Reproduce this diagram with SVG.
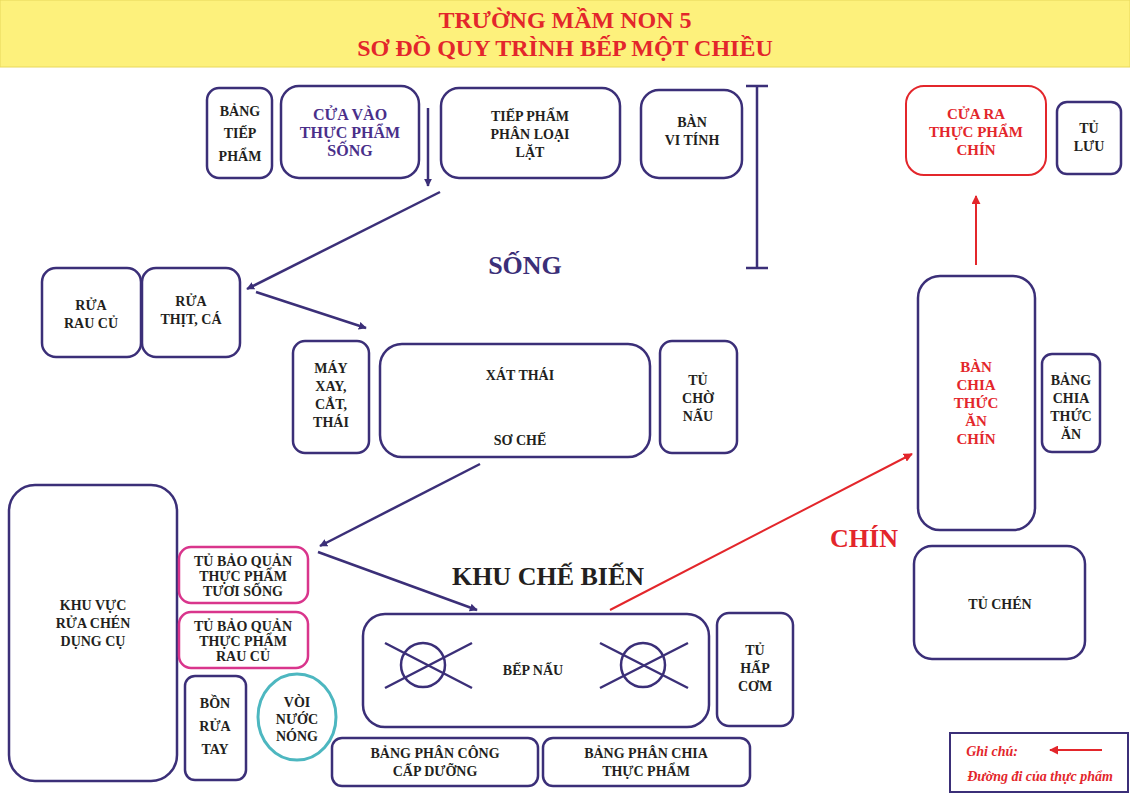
<svg xmlns="http://www.w3.org/2000/svg" width="1130" height="795" viewBox="0 0 1130 795">
<style>
text{font-family:"Liberation Serif","Times New Roman",serif;font-weight:bold;text-anchor:middle}
.b{fill:#fff;stroke:#3b2f78;stroke-width:2.5}
.p{fill:#fff;stroke:#d9358c;stroke-width:2.5}
.r{fill:#fff;stroke:#e3262b;stroke-width:2}
.t{font-size:14px;fill:#231f20}
.pu{font-size:16px;fill:#4a2f8a}
.rd{fill:#e3262b}
.big{font-size:26px}
.ln{stroke:#3b2f78;stroke-width:2.5;fill:none}
.lr{stroke:#e3262b;stroke-width:2;fill:none}
</style>
<defs>
<marker id="ab" viewBox="0 0 10 10" refX="9" refY="5" markerWidth="8" markerHeight="8" markerUnits="userSpaceOnUse" orient="auto"><path d="M0,0L10,5L0,10z" fill="#3b2f78"/></marker>
<marker id="ar" viewBox="0 0 10 10" refX="9" refY="5" markerWidth="9" markerHeight="9" markerUnits="userSpaceOnUse" orient="auto"><path d="M0,0L10,5L0,10z" fill="#e3262b"/></marker>
</defs>
<rect width="1130" height="795" fill="#fff"/>
<g id="title"><rect x="0" y="0" width="1130" height="67" fill="#fdf17c" stroke="#e8d85a"/>
<text x="565" y="28" class="rd" font-size="24">TRƯỜNG MẦM NON 5</text>
<text x="565" y="56" class="rd" font-size="24">SƠ ĐỒ QUY TRÌNH BẾP MỘT CHIỀU</text></g>

<g id="bang-tiep-pham"><rect class="b" x="207" y="88" width="65" height="90" rx="12"/><text class="t" font-size="12" x="240" y="116">BẢNG</text><text class="t" font-size="12" x="240" y="138">TIẾP</text><text class="t" font-size="12" x="240" y="161">PHẨM</text></g>
<g id="cua-vao"><rect class="b" x="281" y="86" width="138" height="92" rx="18"/><text class="pu" x="350" y="120">CỬA VÀO</text><text class="pu" x="350" y="138">THỰC PHẨM</text><text class="pu" x="350" y="156">SỐNG</text></g>
<g id="tiep-pham"><rect class="b" x="441" y="88" width="179" height="90" rx="18"/><text class="t" font-size="15" x="530" y="121">TIẾP PHẨM</text><text class="t" font-size="15" x="530" y="139">PHÂN LOẠI</text><text class="t" font-size="15" x="530" y="157">LẶT</text></g>
<g id="ban-vi-tinh"><rect class="b" x="641" y="90" width="101" height="88" rx="18"/><text class="t" font-size="15" x="692" y="127">BÀN</text><text class="t" font-size="15" x="692" y="145">VI TÍNH</text></g>
<g id="song"><text x="525" y="274" class="big" fill="#3b2f78">SỐNG</text></g>

<g id="rua-rau"><rect class="b" x="42" y="268" width="99" height="89" rx="14"/><text class="t" x="91" y="310">RỬA</text><text class="t" x="91" y="328">RAU CỦ</text></g>
<g id="rua-thit"><rect class="b" x="142" y="268" width="98" height="89" rx="14"/><text class="t" x="191" y="306">RỬA</text><text class="t" x="191" y="324">THỊT, CÁ</text></g>
<g id="may-xay"><rect class="b" x="293" y="341" width="76" height="112" rx="12"/><text class="t" x="331" y="373">MÁY</text><text class="t" x="331" y="391">XAY,</text><text class="t" x="331" y="409">CẮT,</text><text class="t" x="331" y="427">THÁI</text></g>
<g id="xat-thai"><rect class="b" x="380" y="344" width="270" height="113" rx="22"/><text class="t" x="520" y="380">XÁT THÁI</text><text class="t" x="520" y="445">SƠ CHẾ</text></g>
<g id="tu-cho-nau"><rect class="b" x="660" y="341" width="77" height="112" rx="12"/><text class="t" x="698" y="385">TỦ</text><text class="t" x="698" y="403">CHỜ</text><text class="t" x="698" y="421">NẤU</text></g>

<g id="rua-chen"><rect class="b" x="9" y="485" width="168" height="296" rx="26"/><text class="t" x="93" y="610">KHU VỰC</text><text class="t" x="93" y="628">RỬA CHÉN</text><text class="t" x="93" y="646">DỤNG CỤ</text></g>
<g id="tu-tuoi-song"><rect class="p" x="179" y="547" width="129" height="56" rx="12"/><text class="t" font-size="13" x="243" y="566">TỦ BẢO QUẢN</text><text class="t" font-size="13" x="243" y="581">THỰC PHẨM</text><text class="t" font-size="13" x="243" y="596">TƯƠI SỐNG</text></g>
<g id="tu-rau-cu"><rect class="p" x="179" y="612" width="129" height="56" rx="12"/><text class="t" font-size="13" x="243" y="631">TỦ BẢO QUẢN</text><text class="t" font-size="13" x="243" y="646">THỰC PHẨM</text><text class="t" font-size="13" x="243" y="661">RAU CỦ</text></g>
<g id="bon-rua-tay"><rect class="b" x="185" y="676" width="61" height="104" rx="10"/><text class="t" font-size="19" x="215" y="708">BỒN</text><text class="t" font-size="19" x="215" y="731">RỬA</text><text class="t" font-size="19" x="215" y="754">TAY</text></g>
<g id="voi-nuoc"><ellipse cx="297" cy="717" rx="39" ry="43" fill="#fff" stroke="#4db7c0" stroke-width="3"/><text class="t" x="297" y="707">VÒI</text><text class="t" x="297" y="724">NƯỚC</text><text class="t" x="297" y="741">NÓNG</text></g>
<g id="khu-che-bien"><text x="548" y="585" class="big" fill="#231f20">KHU CHẾ BIẾN</text></g>
<g id="bep-nau"><rect class="b" x="363" y="614" width="346" height="113" rx="22"/>
<circle cx="423" cy="665" r="22" class="ln"/><path class="ln" d="M385,643L472,688M385,688L472,643"/>
<circle cx="643" cy="665" r="22" class="ln"/><path class="ln" d="M600,643L688,688M600,688L688,643"/>
<text class="t" x="533" y="675">BẾP NẤU</text></g>
<g id="tu-hap-com"><rect class="b" x="717" y="613" width="76" height="113" rx="12"/><text class="t" font-size="15" x="755" y="655">TỦ</text><text class="t" font-size="15" x="755" y="673">HẤP</text><text class="t" font-size="15" x="755" y="691">CƠM</text></g>
<g id="bang-phan-cong"><rect class="b" x="332" y="738" width="206" height="48" rx="10"/><text class="t" x="435" y="758">BẢNG PHÂN CÔNG</text><text class="t" x="435" y="776">CẤP DƯỠNG</text></g>
<g id="bang-phan-chia"><rect class="b" x="543" y="738" width="207" height="48" rx="10"/><text class="t" x="646" y="758">BẢNG PHÂN CHIA</text><text class="t" x="646" y="776">THỰC PHẨM</text></g>

<g id="chin"><text x="864" y="547" class="big rd">CHÍN</text></g>
<g id="ban-chia"><rect class="b" x="918" y="276" width="117" height="254" rx="22"/><text class="rd" font-size="15" x="976" y="372">BÀN</text><text class="rd" font-size="15" x="976" y="390">CHIA</text><text class="rd" font-size="15" x="976" y="408">THỨC</text><text class="rd" font-size="15" x="976" y="426">ĂN</text><text class="rd" font-size="15" x="976" y="444">CHÍN</text></g>
<g id="bang-chia"><rect class="b" x="1042" y="354" width="58" height="98" rx="10"/><text class="t" x="1071" y="385">BẢNG</text><text class="t" x="1071" y="403">CHIA</text><text class="t" x="1071" y="421">THỨC</text><text class="t" x="1071" y="439">ĂN</text></g>
<g id="tu-chen"><rect class="b" x="914" y="546" width="171" height="113" rx="18"/><text class="t" x="1000" y="609">TỦ CHÉN</text></g>
<g id="cua-ra"><rect class="r" x="906" y="86" width="140" height="89" rx="18"/><text class="rd" font-size="15" x="976" y="119">CỬA RA</text><text class="rd" font-size="15" x="976" y="137">THỰC PHẨM</text><text class="rd" font-size="15" x="976" y="155">CHÍN</text></g>
<g id="tu-luu"><rect class="b" x="1057" y="102" width="64" height="72" rx="10"/><text class="t" x="1089" y="133">TỦ</text><text class="t" x="1089" y="151">LƯU</text></g>

<g id="connectors">
<path class="ln" d="M757,86V268M746,86H768M746,268H768"/>
<path class="ln" d="M428,108V186" marker-end="url(#ab)"/>
<path class="ln" d="M440,192L247,289" marker-end="url(#ab)"/>
<path class="ln" d="M256,292L366,328" marker-end="url(#ab)"/>
<path class="ln" d="M480,464L320,546" marker-end="url(#ab)"/>
<path class="ln" d="M318,552L477,610" marker-end="url(#ab)"/>
<path class="lr" d="M610,610L912,454" marker-end="url(#ar)"/>
<path class="lr" d="M976,265V196" marker-end="url(#ar)"/>
</g>
<g id="legend"><rect x="950" y="733" width="178" height="59" fill="#fff" stroke="#3b2f78" stroke-width="2"/>
<text x="992" y="756" class="rd" font-size="14" font-style="italic">Ghi chú:</text>
<path d="M1102,750H1050" class="lr" stroke-width="3" marker-end="url(#ar)"/>
<text x="1040" y="781" class="rd" font-size="14" font-style="italic">Đường đi của thực phẩm</text></g>
</svg>
